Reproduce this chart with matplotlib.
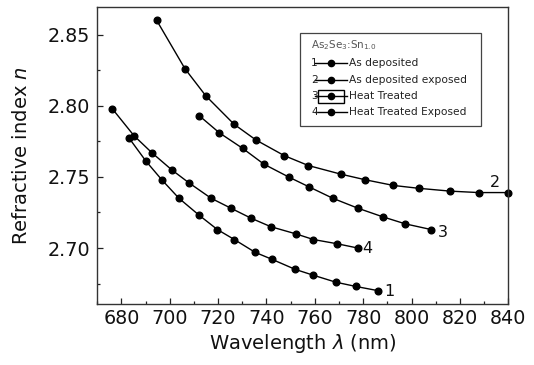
import numpy as np
import matplotlib
matplotlib.use("Agg")
import matplotlib.pyplot as plt
from matplotlib.lines import Line2D
from matplotlib.patches import Rectangle
from matplotlib.ticker import MultipleLocator

plt.rcParams['font.family'] = ['DejaVu Sans']
plt.rcParams['mathtext.fontset'] = 'dejavusans'

# wavelength (nm) / refractive index
wl_1 = [683.3, 690.2, 696.7, 703.8, 712.2, 719.7, 726.7, 735.3, 742.4, 751.9, 759.2, 768.7, 777.0, 786.3]
n_1 = [2.777, 2.761, 2.748, 2.735, 2.723, 2.713, 2.706, 2.697, 2.692, 2.685, 2.681, 2.676, 2.673, 2.670]

wl_2 = [694.6, 706.3, 714.9, 726.6, 735.6, 747.3, 757.3, 770.6, 780.8, 792.5, 802.9, 816.0, 827.7, 839.7]
n_2 = [2.860, 2.826, 2.807, 2.787, 2.776, 2.765, 2.758, 2.752, 2.748, 2.744, 2.742, 2.740, 2.739, 2.739]

wl_3 = [712.2, 720.5, 730.2, 738.9, 749.1, 757.6, 767.4, 777.8, 788.0, 797.4, 808.1]
n_3 = [2.793, 2.781, 2.770, 2.759, 2.750, 2.743, 2.735, 2.728, 2.722, 2.717, 2.713]

wl_4 = [676.2, 685.2, 692.6, 700.8, 707.8, 717.1, 725.3, 733.6, 741.8, 752.1, 759.4, 769.3, 777.8]
n_4 = [2.798, 2.779, 2.767, 2.755, 2.746, 2.735, 2.728, 2.721, 2.715, 2.710, 2.706, 2.703, 2.700]

series_names = ["As deposited", "As deposited exposed", "Heat Treated", "Heat Treated Exposed"]
curve_tags = ["1", "2", "3", "4"]

fig = plt.figure(figsize=(5.34, 3.65), dpi=100)
ax = fig.add_axes([0.182, 0.166, 0.770, 0.814])

for wl, n in [(wl_1, n_1), (wl_2, n_2), (wl_3, n_3), (wl_4, n_4)]:
    ax.plot(wl, n, color='black', lw=1.0, marker='o', ms=4.8, clip_on=False)

# curve numbers next to the last point
ax.text(834.6, 2.7458, "2", fontsize=11.5, ha='center', va='center', color='#111111')
ax.text(813.0, 2.7111, "3", fontsize=11.5, ha='center', va='center', color='#111111')
ax.text(781.6, 2.6997, "4", fontsize=11.5, ha='center', va='center', color='#111111')
ax.text(790.7, 2.6696, "1", fontsize=11.5, ha='center', va='center', color='#111111')

ax.set_xlim(670, 840)
ax.set_ylim(2.6604, 2.8692)
ax.xaxis.set_major_locator(MultipleLocator(20))
ax.xaxis.set_minor_locator(MultipleLocator(10))
ax.yaxis.set_major_locator(MultipleLocator(0.05))
ax.yaxis.set_minor_locator(MultipleLocator(0.025))
ax.yaxis.set_major_formatter(matplotlib.ticker.FormatStrFormatter('%.2f'))

ax.tick_params(which='both', direction='in', top=False, right=False,
               labelsize=13.8, colors='#222222', labelcolor='#111111')
ax.tick_params(axis='x', which='major', length=4.3, width=0.9, pad=3.5)
ax.tick_params(axis='x', which='minor', length=2.0, width=0.9)
ax.tick_params(axis='y', which='major', length=4.0, width=0.9, pad=5)
ax.tick_params(axis='y', which='minor', length=2.0, width=0.9)
for s in ax.spines.values():
    s.set_color('#333333')
    s.set_linewidth(1.0)

ax.set_xlabel(r"Wavelength $\lambda$ (nm)", fontsize=14, color='#111111')
ax.set_ylabel(r"Refractive index $n$", fontsize=14, color='#111111')
ax.xaxis.set_label_coords(0.5, -0.092)
ax.yaxis.set_label_coords(-0.16, 0.5)

# legend box drawn by hand (numbers sit in front of the handles)
ax.add_patch(Rectangle((0.4935, 0.6013), 0.4408, 0.3112, transform=ax.transAxes,
                       fill=False, edgecolor='#444444', lw=0.9))
ax.text(0.5196, 0.873, r"As$_2$Se$_3$:Sn$_{1.0}$", transform=ax.transAxes,
        fontsize=7.5, color='#555555', va='center', ha='left')
rows_y = [0.8114, 0.7552, 0.7013, 0.6485]
for tag, name, yy in zip(curve_tags, series_names, rows_y):
    ax.text(0.5203, yy, tag, transform=ax.transAxes, fontsize=7.7,
            color='#222222', va='center', ha='left')
    ax.add_line(Line2D([0.5299, 0.6078], [yy, yy], transform=ax.transAxes,
                       color='black', lw=1.0))
    ax.add_line(Line2D([0.5683], [yy], transform=ax.transAxes, color='black',
                       marker='o', ms=4.5))
    ax.text(0.6136, yy, name, transform=ax.transAxes, fontsize=7.7,
            color='#222222', va='center', ha='left')
ax.add_patch(Rectangle((0.5381, 0.6788), 0.0626, 0.0427, transform=ax.transAxes,
                       fill=False, edgecolor='black', lw=1.0))

fig.savefig("out.png", dpi=100)
